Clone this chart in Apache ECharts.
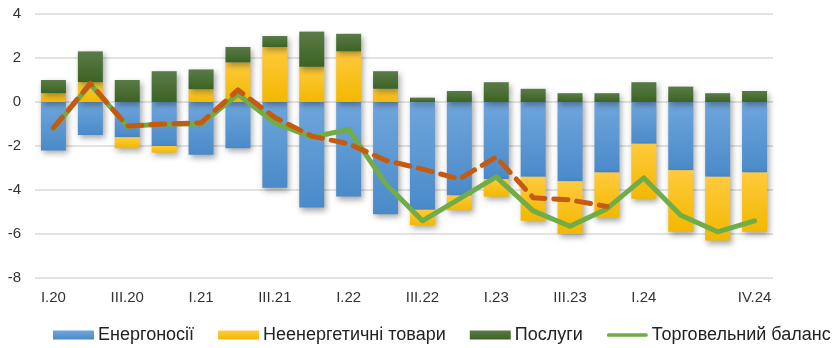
<!DOCTYPE html>
<html>
<head>
<meta charset="utf-8">
<script src="https://cdn.jsdelivr.net/npm/echarts@6/dist/echarts.min.js"></script>
<style>html,body{margin:0;padding:0;background:#fff}#c{width:834px;height:348px}</style>
</head>
<body>
<div id="c"></div>
<script>
const categories = ['I.20','II.20','III.20','IV.20','I.21','II.21','III.21','IV.21','I.22','II.22','III.22','IV.22','I.23','II.23','III.23','IV.23','I.24','II.24','III.24','IV.24'];
const tickLabels = ['I.20','','III.20','','I.21','','III.21','','I.22','','III.22','','I.23','','III.23','','I.24','','','IV.24'];
const energy = [-2.2,-1.5,-1.6,-2.0,-2.4,-2.1,-3.9,-4.8,-4.3,-5.1,-4.9,-4.25,-3.5,-3.4,-3.6,-3.2,-1.9,-3.1,-3.4,-3.2];
const nonEnergy = [0.4,0.9,-0.5,-0.3,0.58,1.8,2.5,1.6,2.3,0.6,-0.7,-0.67,-0.8,-2.0,-2.4,-2.05,-2.5,-2.8,-2.9,-2.7];
const services = [0.6,1.4,1.0,1.4,0.9,0.7,0.5,1.6,0.8,0.8,0.2,0.5,0.9,0.6,0.4,0.4,0.9,0.7,0.4,0.5];
const tradeBalance = [-1.2,0.8,-1.1,-1.0,-1.0,0.35,-0.95,-1.6,-1.25,-3.7,-5.4,-4.4,-3.4,-4.95,-5.65,-4.85,-3.45,-5.15,-5.9,-5.4];
const forecast = [-1.18,0.85,-1.09,-1.0,-0.95,0.55,-0.7,-1.55,-1.9,-2.65,-3.05,-3.5,-2.5,-4.35,-4.45,-4.75,null,null,null,null];
const names = ['Енергоносії','Неенергетичні товари','Послуги','Торговельний баланс'];

const FONT = 'Liberation Sans';
function grad(a,b){return new echarts.graphic.LinearGradient(0,0,0,1,[{offset:0,color:a},{offset:1,color:b}]);}
const shadow = {shadowColor:'rgba(0,0,0,0.35)',shadowBlur:6,shadowOffsetX:2,shadowOffsetY:3};
const chart = echarts.init(document.getElementById('c'),null,{renderer:'canvas'});
chart.setOption({
  animation:false,
  textStyle:{fontFamily:FONT},
  grid:{left:35,right:61,top:14,bottom:70},
  legend:{
    data:[
      {name:names[0],icon:'rect'},
      {name:names[1],icon:'rect'},
      {name:names[2],icon:'rect'},
      {name:names[3],icon:'path://M2,0h40a2,2 0 0 1 0,4h-40a2,2 0 0 1 0,-4z'}
    ],
    left:53, top:326, padding:0, itemWidth:41, itemHeight:9, itemGap:24, symbolKeepAspect:true,
    textStyle:{fontFamily:FONT,fontSize:18,color:'#222',padding:[0,0,0,-1]}
  },
  xAxis:{
    type:'category', data:categories,
    axisLine:{show:false}, axisTick:{show:false},
    axisLabel:{interval:0, margin:12, fontSize:15, color:'#333', formatter:(v,i)=>tickLabels[i]}
  },
  yAxis:{
    type:'value', min:-8, max:4, interval:2,
    axisLine:{show:false}, axisTick:{show:false},
    axisLabel:{fontSize:15,color:'#333',margin:14},
    splitLine:{lineStyle:{color:'#d9d9d9',width:1.5}}
  },
  series:[
    {name:names[0],type:'bar',stack:'s',data:energy,barWidth:25,
     itemStyle:Object.assign({color:grad('#6fa6dc','#4a8ac9')},shadow)},
    {name:names[1],type:'bar',stack:'s',data:nonEnergy,barWidth:25,
     itemStyle:Object.assign({color:grad('#ffca3e','#f2b800')},shadow)},
    {name:names[2],type:'bar',stack:'s',data:services,barWidth:25,
     itemStyle:Object.assign({color:grad('#5a7b48','#3b6322')},shadow)},
    {name:names[3],type:'line',data:tradeBalance,symbol:'none',z:5,
     lineStyle:{color:'#70ad47',width:5,cap:'round',join:'round'},itemStyle:{color:'#70ad47'}},
    {name:'прогноз',type:'line',data:forecast,symbol:'none',z:6,connectNulls:false,
     lineStyle:{color:'#c55a11',width:5,type:[14,9],cap:'round',join:'round'},itemStyle:{color:'#c55a11'}}
  ]
});
</script>
</body>
</html>
